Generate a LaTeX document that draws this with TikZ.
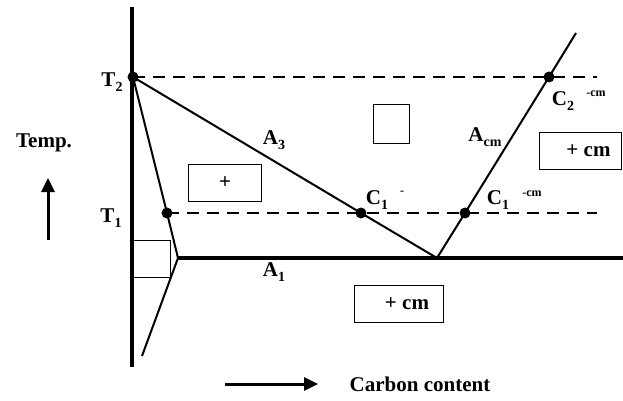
\documentclass[tikz,border=0pt]{standalone}
\usepackage{fontspec}
\setmainfont{Liberation Serif}
\usepackage{tikz}
\usetikzlibrary{arrows.meta}

\newcommand{\lowidx}[1]{\raisebox{-5pt}{\fontsize{14}{14}\selectfont #1}}

\begin{document}
\begin{tikzpicture}[x=1pt, y=-1pt,
  lbl/.style={font=\fontsize{21}{24}\selectfont\bfseries, inner sep=0pt},
  sup/.style={font=\fontsize{12}{14}\selectfont\bfseries, inner sep=0pt},
  phase/.style={draw, line width=1pt, inner sep=0pt, font=\fontsize{21}{24}\selectfont\bfseries},
  bound/.style={line width=2pt},
  tie/.style={line width=2pt, dash pattern=on 12pt off 8pt},
  dot/.style={circle, fill, inner sep=0pt, minimum size=11pt},
  arrow/.style={-{Triangle[length=14pt,width=13pt]}, line width=3pt}
]
\useasboundingbox (0,0) rectangle (623,401);

% axis and key points
\coordinate (top) at (132,7);
\coordinate (bot) at (132,367);
\coordinate (V) at (178,258);
\coordinate (E) at (437,258);
\coordinate (Acmtop) at (576,33);
\coordinate (Lbot) at (142,356);
\coordinate (A1end) at (623,258);
\coordinate (d2) at (597,77);
\coordinate (d1) at (597,213);

\node[dot] (T2) at (133,77) {};
\node[dot] (T1) at (167,213) {};
\node[dot] (C1a) at (361,213) {};
\node[dot] (C1b) at (465,213) {};
\node[dot] (C2) at (549,77) {};

\draw[line width=3.5pt] (top) -- (bot);
\draw[tie] (T2.center) -- (d2);
\draw[tie] (T1.center) -- (d1);
\draw[bound] (T2.center) -- (T1.center) -- (V) -- (Lbot);
\draw[bound] (T2.center) -- (C1a.center) -- (E);
\draw[bound] (E) -- (C1b.center) -- (C2.center) -- (Acmtop);
\draw[line width=4pt] (V) -- (A1end);

% phase boxes
\node[phase, minimum width=37pt, minimum height=37pt] (alpha) at (151.5,258.5) {};
\node[phase, minimum width=73pt, minimum height=37pt] (apg) at (225,182.5) {+};
\node[phase, minimum width=36pt, minimum height=38pt] (gam) at (391,124) {};
\node[phase, minimum width=82pt, minimum height=37pt] (gcm) at (580,151) {\hspace*{17pt}+ cm};
\node[phase, minimum width=89pt, minimum height=37pt] (acm) at (398.5,303.5) {\hspace*{17pt}+ cm};

% labels
\node[lbl] (lT2) at (112,82) {T\lowidx{2}};
\node[lbl] (lT1) at (111,218) {T\lowidx{1}};
\node[lbl] (ltemp) at (44,143) {Temp.};
\node[lbl] (lA3) at (274,140) {A\lowidx{3}};
\node[lbl] (lA1) at (274,272) {A\lowidx{1}};
\node[lbl] (lAcm) at (485,137) {A\lowidx{cm}};
\node[lbl] (lC1a) at (377,200) {C\lowidx{1}};
\node[sup] (sC1a) at (402,193) {-};
\node[lbl] (lC1b) at (498,200) {C\lowidx{1}};
\node[sup] (sC1b) at (532,194) {-cm};
\node[lbl] (lC2) at (563,101) {C\lowidx{2}};
\node[sup] (sC2) at (596,94) {-cm};
\node[lbl] (lcarb) at (420,384) {Carbon content};

% direction arrows
\coordinate (tu0) at (48,240);
\coordinate (tu1) at (48,178);
\coordinate (cr0) at (225,384);
\coordinate (cr1) at (318,384);
\draw[arrow] (tu0) -- (tu1);
\draw[arrow] (cr0) -- (cr1);

\end{tikzpicture}
\end{document}
